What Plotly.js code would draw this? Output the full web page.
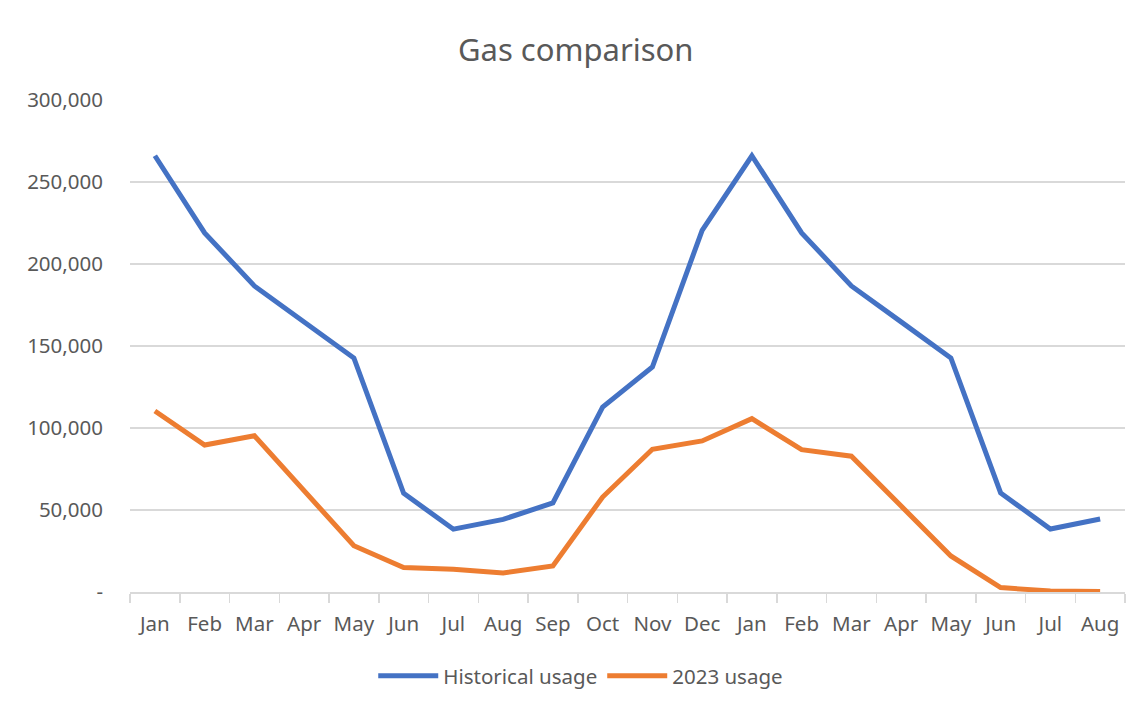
<!DOCTYPE html>
<html>
<head>
<meta charset="utf-8">
<script src="https://cdn.plot.ly/plotly-3.0.1.min.js"></script>
<style>html,body{margin:0;padding:0;background:#fff;}#chart{width:1140px;height:713px;}</style>
</head>
<body>
<div id="chart"></div>
<script>
const months = ["Jan","Feb","Mar","Apr","May","Jun","Jul","Aug","Sep","Oct","Nov","Dec","Jan","Feb","Mar","Apr","May","Jun","Jul","Aug"];
const historical = [266000,219000,186600,164700,142700,60200,38300,44300,54300,112800,137200,220500,266000,219000,186600,164700,142700,60400,38400,44500];
const usage2023 = [110400,89600,95300,61700,28200,14900,13800,11600,15900,57900,87000,92100,105700,86800,82800,52400,22000,2700,600,300];
const yTicks = [0,50000,100000,150000,200000,250000,300000];
const yTickText = ["-","50,000","100,000","150,000","200,000","250,000","300,000"];

const xIdx = months.map((m,i)=>i);
const boundaries = months.map((m,i)=>i-0.5).concat([months.length-0.5]);

const font = "Noto Sans, Open Sans, sans-serif";
const grey = "#595959";

const traces = [
  {x: xIdx, y: historical, type: "scatter", mode: "lines", name: "Historical usage",
   line: {color: "#4472C4", width: 5}},
  {x: xIdx, y: usage2023, type: "scatter", mode: "lines", name: "2023 usage",
   line: {color: "#ED7D31", width: 5}}
];

const layout = {
  width: 1140, height: 713,
  paper_bgcolor: "#fff", plot_bgcolor: "#fff",
  margin: {l: 130, r: 15, t: 100, b: 121},
  title: {text: "Gas comparison", font: {family: font, size: 31, color: grey}, x: 0.505, xanchor: "center", y: 0.93, yanchor: "middle"},
  font: {family: font, color: grey},
  xaxis: {
    range: [-0.5, months.length - 0.5],
    tickmode: "array", tickvals: xIdx, ticktext: months,
    ticks: "", showgrid: false, zeroline: false,
    showline: true, linecolor: "#d9d9d9", linewidth: 1.5,
    tickfont: {family: font, size: 20.5, color: grey},
    ticklabelstandoff: 13,
    minor: {tickmode: "array", tickvals: boundaries, ticks: "outside", ticklen: 9, tickcolor: "#d9d9d9", tickwidth: 1.5, showgrid: false},
    fixedrange: true
  },
  yaxis: {
    range: [0, 300000],
    tickmode: "array", tickvals: yTicks, ticktext: yTickText,
    showgrid: true, gridcolor: "#d9d9d9", gridwidth: 1.5,
    zeroline: false, showline: false, ticks: "",
    tickfont: {family: font, size: 20.5, color: grey},
    ticklabelstandoff: 26,
    fixedrange: true
  },
  showlegend: true,
  legend: {orientation: "h", x: 0.453, xanchor: "center", y: -0.13, yanchor: "top",
    font: {family: font, size: 20.5, color: grey}, itemwidth: 60, tracegroupgap: 0},
  hovermode: false
};

Plotly.newPlot("chart", traces, layout, {displayModeBar: false, staticPlot: true});
</script>
</body>
</html>
